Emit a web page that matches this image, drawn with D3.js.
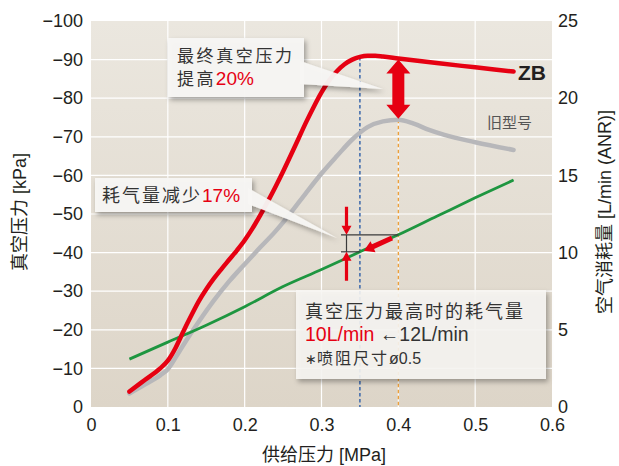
<!DOCTYPE html>
<html><head><meta charset="utf-8">
<script src="https://cdn.jsdelivr.net/npm/d3@7"></script>
<style>
html,body{margin:0;padding:0;background:#fff;}
svg{display:block;}
</style></head>
<body>
<svg id="c" width="619" height="466"></svg>
<script>
// ---- data ----
const xTicks = [0, 0.1, 0.2, 0.3, 0.4, 0.5, 0.6];
const xTickLabels = ["0", "0.1", "0.2", "0.3", "0.4", "0.5", "0.6"];
const yLeftTicks = [0, -10, -20, -30, -40, -50, -60, -70, -80, -90, -100];
const yLeftTickLabels = ["0", "−10", "−20", "−30", "−40", "−50", "−60", "−70", "−80", "−90", "−100"];
const yRightTicks = [0, 5, 10, 15, 20, 25];
const yRightTickLabels = ["0", "5", "10", "15", "20", "25"];

const zbPressure = [0.05, 0.07, 0.09, 0.10, 0.11, 0.12, 0.13, 0.14, 0.15, 0.16, 0.17, 0.18, 0.19, 0.20, 0.21, 0.22, 0.23, 0.24, 0.25, 0.26, 0.27, 0.28, 0.29, 0.30, 0.31, 0.32, 0.33, 0.34, 0.35, 0.36, 0.37, 0.38, 0.40, 0.45, 0.50, 0.55];
const zbVacuum   = [-4, -7, -10, -12, -15.3, -19.5, -23.5, -27.3, -30.5, -33.3, -35.8, -38.2, -40.6, -43.2, -46.2, -49.6, -53.2, -57, -61, -65.2, -69.5, -73.8, -77.8, -81.5, -84.6, -87, -88.8, -90, -90.7, -91, -91, -90.8, -90.3, -89.1, -88, -86.9];

const oldPressure = [0.05, 0.07, 0.09, 0.10, 0.11, 0.12, 0.14, 0.16, 0.18, 0.20, 0.22, 0.24, 0.26, 0.28, 0.30, 0.32, 0.34, 0.36, 0.38, 0.40, 0.42, 0.44, 0.46, 0.50, 0.55];
const oldVacuum   = [-3.5, -5.8, -8.2, -9.8, -12.8, -16, -22, -27.6, -32.6, -37, -41.3, -45.5, -50.3, -55.5, -60.5, -65, -69.3, -72.5, -74, -74.4, -73.4, -71.8, -70.5, -68.6, -66.6];

const airPressure = [0.05, 0.10, 0.15, 0.20, 0.25, 0.30, 0.35, 0.40, 0.45, 0.50, 0.55];
const airFlow     = [3.1, 4.2, 5.3, 6.5, 7.8, 8.9, 10.05, 11.15, 12.35, 13.55, 14.7];

const peakZB = 0.35, peakOld = 0.40;

// ---- layout ----
const svg = d3.select("#c");
const L = 91, R = 552, T = 21, B = 407;
const x = d3.scaleLinear().domain([0, 0.6]).range([L, R]);
const yL = d3.scaleLinear().domain([0, -100]).range([B, T]);
const yR = d3.scaleLinear().domain([0, 25]).range([B, T]);

const FONT = "'Liberation Sans', Arial, Helvetica, sans-serif";
const CJK = "'Noto Sans CJK SC', 'Noto Sans', sans-serif";

const defs = svg.append("defs");
const grad = defs.append("linearGradient").attr("id", "bg").attr("x1", 0).attr("y1", 0).attr("x2", 0).attr("y2", 1);
grad.append("stop").attr("offset", "0%").attr("stop-color", "#ebe7df");
grad.append("stop").attr("offset", "100%").attr("stop-color", "#ddd5c8");
const f = defs.append("filter").attr("id", "sh").attr("x", "-20%").attr("y", "-30%").attr("width", "150%").attr("height", "180%");
f.append("feDropShadow").attr("dx", 2).attr("dy", 3).attr("stdDeviation", 2.5).attr("flood-color", "#000").attr("flood-opacity", 0.35);

svg.append("rect").attr("x", L).attr("y", T).attr("width", R - L).attr("height", B - T).attr("fill", "url(#bg)");

// grid
svg.append("g").selectAll("line").data(xTicks.slice(1, -1)).join("line")
  .attr("x1", d => x(d)).attr("x2", d => x(d)).attr("y1", T).attr("y2", B)
  .attr("stroke", "#fff").attr("stroke-width", 1.2);
svg.append("g").selectAll("line").data(yLeftTicks.slice(1, -1)).join("line")
  .attr("x1", L).attr("x2", R).attr("y1", d => yL(d)).attr("y2", d => yL(d))
  .attr("stroke", "#fff").attr("stroke-width", 1.2);

// axes (labels only, using d3 axes)
const axStyle = g => {
  g.select(".domain").remove();
  g.selectAll(".tick line").remove();
  g.selectAll("text").attr("font-family", FONT).attr("font-size", 18).attr("fill", "#231f20");
};
svg.append("g").attr("transform", `translate(0,${B})`)
  .call(d3.axisBottom(x).tickValues(xTicks).tickFormat((d, i) => xTickLabels[i]).tickSize(0).tickPadding(11))
  .call(axStyle);
svg.append("g").attr("transform", `translate(${L},0)`)
  .call(d3.axisLeft(yL).tickValues(yLeftTicks).tickFormat((d, i) => yLeftTickLabels[i]).tickSize(0).tickPadding(8))
  .call(axStyle);
svg.append("g").attr("transform", `translate(${R},0)`)
  .call(d3.axisRight(yR).tickValues(yRightTicks).tickFormat((d, i) => yRightTickLabels[i]).tickSize(0).tickPadding(6))
  .call(axStyle);

// axis titles
svg.append("text").attr("x", 324).attr("y", 461).attr("text-anchor", "middle")
  .attr("font-size", 18).attr("fill", "#231f20")
  .html(`<tspan font-family="${CJK}">供给压力</tspan><tspan font-family="${FONT}"> [MPa]</tspan>`);
svg.append("text").attr("transform", "translate(26,212) rotate(-90)").attr("text-anchor", "middle")
  .attr("font-size", 18).attr("fill", "#231f20")
  .html(`<tspan font-family="${CJK}">真空压力</tspan><tspan font-family="${FONT}"> [kPa]</tspan>`);
svg.append("text").attr("transform", "translate(611,212) rotate(-90)").attr("text-anchor", "middle")
  .attr("font-size", 18).attr("fill", "#231f20")
  .html(`<tspan font-family="${CJK}">空气消耗量</tspan><tspan font-family="${FONT}"> [L/min (ANR)]</tspan>`);

// dashed verticals
const zbAt = d3.scaleLinear().domain(zbPressure).range(zbVacuum);
const oldAt = d3.scaleLinear().domain(oldPressure).range(oldVacuum);
const airAt = d3.scaleLinear().domain(airPressure).range(airFlow);
svg.append("line").attr("x1", x(peakZB)).attr("x2", x(peakZB)).attr("y1", yL(zbAt(peakZB))).attr("y2", B)
  .attr("stroke", "#2e5ea8").attr("stroke-width", 1.4).attr("stroke-dasharray", "3.5,2.5");
svg.append("line").attr("x1", x(peakOld)).attr("x2", x(peakOld)).attr("y1", yL(oldAt(peakOld))).attr("y2", B)
  .attr("stroke", "#eba03c").attr("stroke-width", 1.4).attr("stroke-dasharray", "3.5,2.5");

// curves
const lineL = d3.line().x(d => x(d[0])).y(d => yL(d[1])).curve(d3.curveMonotoneX);
const lineR = d3.line().x(d => x(d[0])).y(d => yR(d[1])).curve(d3.curveMonotoneX);
svg.append("path").attr("d", lineL(d3.zip(oldPressure, oldVacuum)))
  .attr("fill", "none").attr("stroke", "#b7b7ba").attr("stroke-width", 4.5).attr("stroke-linecap", "round");
svg.append("path").attr("d", lineR(d3.zip(airPressure, airFlow)))
  .attr("fill", "none").attr("stroke", "#1e9640").attr("stroke-width", 2.8);
svg.append("path").attr("d", lineL(d3.zip(zbPressure, zbVacuum)))
  .attr("fill", "none").attr("stroke", "#e60012").attr("stroke-width", 4.5).attr("stroke-linecap", "round");

// consumption bracket
const yA = yR(airAt(peakOld)), yB = yR(airAt(peakZB)), bx = 346.5;
svg.append("line").attr("x1", 341).attr("x2", x(peakOld)).attr("y1", yA).attr("y2", yA).attr("stroke", "#3a3a3a").attr("stroke-width", 1.2);
svg.append("line").attr("x1", 341).attr("x2", x(peakZB)).attr("y1", yB).attr("y2", yB).attr("stroke", "#3a3a3a").attr("stroke-width", 1.2);
svg.append("line").attr("x1", bx).attr("x2", bx).attr("y1", yA).attr("y2", yB).attr("stroke", "#3a3a3a").attr("stroke-width", 1.2);
const red = "#e60012";
svg.append("path").attr("d", `M${bx-1.6},${yA-28} L${bx+1.6},${yA-28} L${bx+1.6},${yA-9} L${bx+5},${yA-9} L${bx},${yA} L${bx-5},${yA-9} L${bx-1.6},${yA-9} Z`).attr("fill", red);
svg.append("path").attr("d", `M${bx-1.6},${yB+29} L${bx+1.6},${yB+29} L${bx+1.6},${yB+9} L${bx+5},${yB+9} L${bx},${yB} L${bx-5},${yB+9} L${bx-1.6},${yB+9} Z`).attr("fill", red);
(function(){
  const tx = x(peakZB) + 4, ty = yB - 1, sx = 392, sy = 238;
  const ang = Math.atan2(ty - sy, tx - sx);
  const len = Math.hypot(tx - sx, ty - sy);
  const g = svg.append("g").attr("transform", `translate(${sx},${sy}) rotate(${ang * 180 / Math.PI})`);
  g.append("path").attr("d", `M0,-2.6 L${len-10},-2.6 L${len-10},-6 L${len},0 L${len-10},6 L${len-10},2.6 L0,2.6 Z`).attr("fill", red);
})();

// big double arrow between peaks
(function(){
  const ax = x(peakOld), y1 = yL(zbAt(peakOld)) + 1, y2 = yL(oldAt(peakOld)) - 1;
  const hw = 12, sw = 6, hh = 14;
  svg.append("path").attr("d",
    `M${ax},${y1} L${ax+hw},${y1+hh} L${ax+sw},${y1+hh} L${ax+sw},${y2-hh} L${ax+hw},${y2-hh} L${ax},${y2} L${ax-hw},${y2-hh} L${ax-sw},${y2-hh} L${ax-sw},${y1+hh} L${ax-hw},${y1+hh} Z`)
    .attr("fill", red);
})();

// callouts
const boxFill = "#f8f7f4";
function callout(bx0, by0, bw, bh, wedge, op) {
  const g = svg.append("g").attr("filter", "url(#sh)");
  if (wedge) g.append("path").attr("d", wedge).attr("fill", boxFill).attr("opacity", op);
  g.append("rect").attr("x", bx0).attr("y", by0).attr("width", bw).attr("height", bh).attr("fill", boxFill).attr("opacity", op);
}
callout(168, 38, 136, 59, "M300,61 L383,89 L300,84 Z", 0.95);
callout(95, 178, 157, 34, "M248,188 L337,238 L248,204 Z", 0.95);
callout(296, 290, 250, 89, null, 0.88);

const dark = "#333";
function txt(xx, yy, size, parts, ls) {
  const t = svg.append("text").attr("x", xx).attr("y", yy).attr("font-size", size).attr("fill", dark);
  parts.forEach(p => {
    t.append("tspan").text(p.t).attr("font-family", p.cjk ? CJK : FONT)
      .attr("fill", p.c || dark).attr("letter-spacing", p.cjk ? (ls || 1.5) : 0)
      .attr("font-size", p.s || size);
  });
  return t;
}
txt(177, 62, 17, [{t: "最终真空压力", cjk: true}], 2.6);
txt(177, 85, 17, [{t: "提高", cjk: true}, {t: "20%", c: red, s: 19}], 2.4);
txt(102, 202, 18, [{t: "耗气量减少", cjk: true}, {t: "17%", c: red, s: 19}], 2);
txt(305, 318, 18, [{t: "真空压力最高时的耗气量", cjk: true}], 2);
txt(305, 341, 19.5, [{t: "10L/min", c: red}, {t: " ←12L/min"}]);
txt(305, 364, 16, [{t: "∗", s: 14}, {t: "喷阻尺寸", cjk: true}, {t: "ø0.5"}], 2);

svg.append("text").attr("x", 518).attr("y", 80).attr("font-family", FONT).attr("font-weight", "bold")
  .attr("font-size", 21).attr("fill", "#231f20").text("ZB");
svg.append("text").attr("x", 487).attr("y", 128).attr("font-family", CJK)
  .attr("font-size", 15).attr("fill", "#555").text("旧型号");
</script>
</body></html>
